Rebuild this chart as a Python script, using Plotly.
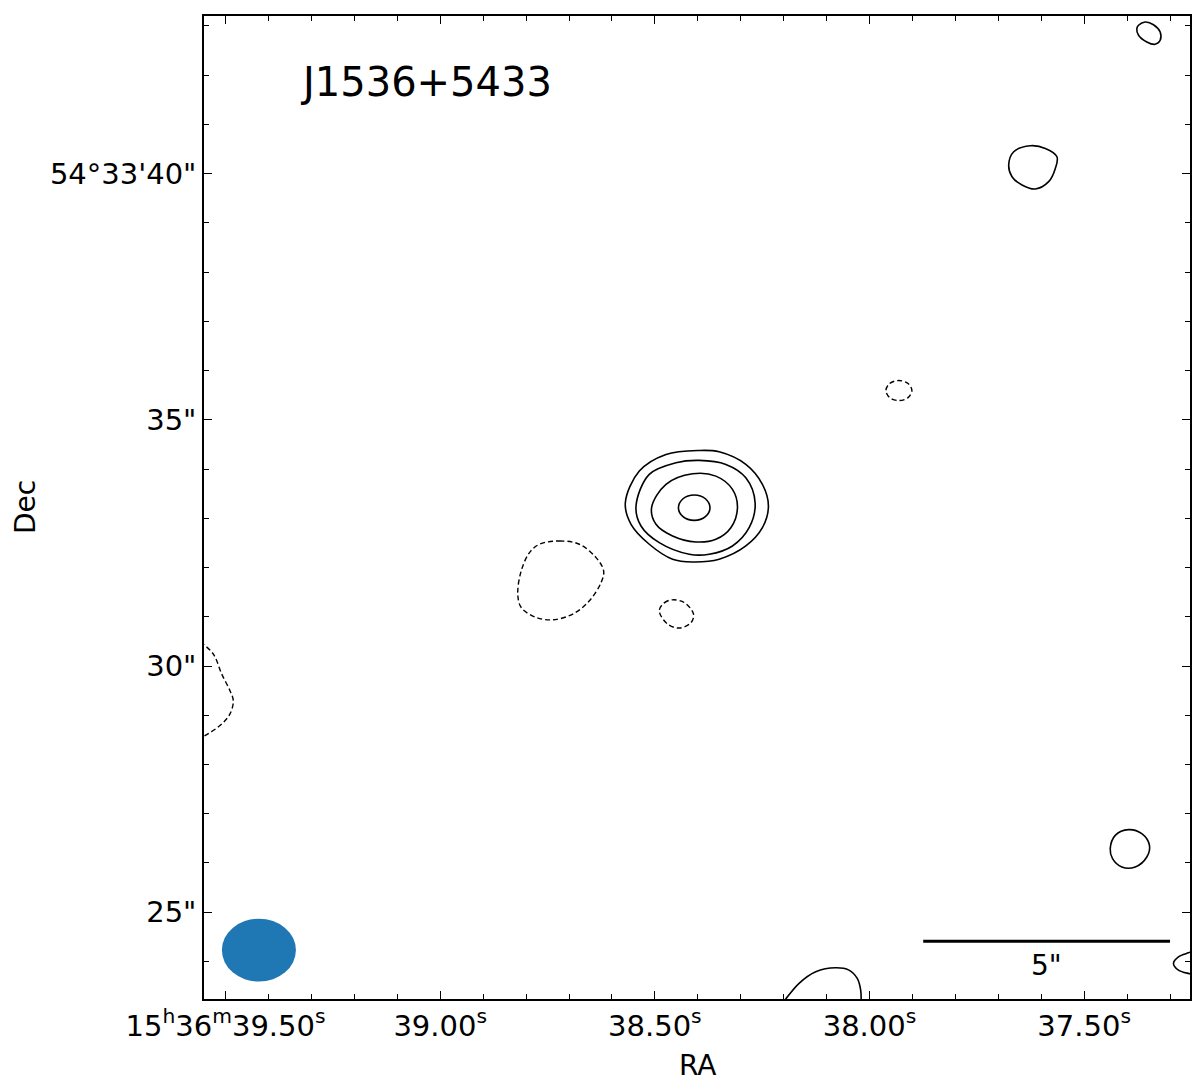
import plotly.graph_objects as go

# ---------------- data (RA in seconds of 15h36m, Dec in arcsec of +54d33') ----------------
source_name = "J1536+5433"

# positive contours (solid)
c1_ra = [38.5688, 38.5555, 38.5130, 38.4588, 38.4123, 38.3502, 38.2881, 38.2495, 38.2355, 38.2495, 38.2881, 38.3502, 38.3967, 38.4741, 38.5362]
c1_dec = [33.316, 32.878, 32.473, 32.169, 32.114, 32.169, 32.438, 32.809, 33.249, 33.689, 34.095, 34.350, 34.378, 34.297, 33.959]

c2_ra = [38.5439, 38.5323, 38.4897, 38.4199, 38.3734, 38.3193, 38.2804, 38.2665, 38.2881, 38.3346, 38.3967, 38.4509, 38.5130]
c2_dec = [33.249, 32.844, 32.505, 32.270, 32.270, 32.438, 32.809, 33.316, 33.823, 34.095, 34.176, 34.127, 33.892]

c3_ra = [38.5076, 38.4974, 38.4588, 38.4044, 38.3579, 38.3230, 38.3076, 38.3193, 38.3579, 38.4123, 38.4741]
c3_dec = [33.215, 32.878, 32.641, 32.520, 32.574, 32.809, 33.215, 33.588, 33.857, 33.904, 33.689]

c4_ra = [38.4451, 38.4344, 38.4083, 38.3823, 38.3716, 38.3823, 38.4083, 38.4344]
c4_dec = [33.215, 33.397, 33.472, 33.397, 33.215, 33.032, 32.957, 33.032]

p_ne_ra = [37.6758, 37.6641, 37.6253, 37.5904, 37.5634, 37.5672, 37.5827, 37.6137, 37.6448, 37.6681]
p_ne_dec = [40.176, 40.446, 40.567, 40.513, 40.345, 40.107, 39.838, 39.690, 39.771, 39.939]

p_se_ra = [37.4393, 37.4276, 37.3967, 37.3658, 37.3479, 37.3541, 37.3811, 37.4123, 37.4339]
p_se_dec = [26.290, 26.560, 26.676, 26.594, 26.357, 26.120, 25.917, 25.917, 26.088]

p_corner_ra = [37.3734, 37.3579, 37.3386, 37.3230, 37.3230, 37.3346, 37.3541, 37.3734, 37.3774]
p_corner_dec = [43.014, 43.081, 43.026, 42.878, 42.710, 42.629, 42.676, 42.812, 42.945]

p_bottom_ra = [38.2060, 38.1951, 38.1641, 38.1253, 38.0788, 38.0479, 38.0286, 38.0206, 38.0199]
p_bottom_dec = [23.114, 23.236, 23.554, 23.789, 23.870, 23.823, 23.655, 23.418, 23.114]

p_edge_ra = [37.2455, 37.2572, 37.2804, 37.2920, 37.2804, 37.2572, 37.2455]
p_edge_dec = [24.208, 24.174, 24.093, 23.959, 23.823, 23.756, 23.742]

# negative contours (dashed)
n_blob_ra = [38.7688, 38.7223, 38.6758, 38.6369, 38.6193, 38.6253, 38.6525, 38.6913, 38.7379, 38.7765, 38.8113, 38.8193, 38.8113, 38.7920]
n_blob_dec = [32.473, 32.540, 32.473, 32.201, 31.932, 31.695, 31.324, 31.054, 30.939, 30.985, 31.188, 31.460, 31.932, 32.303]

n_small_ra = [38.4897, 38.4781, 38.4588, 38.4316, 38.4099, 38.4160, 38.4432, 38.4704]
n_small_dec = [31.121, 31.283, 31.344, 31.290, 31.054, 30.878, 30.771, 30.852]

n_ne_ra = [37.9618, 37.9530, 37.9316, 37.9102, 37.9013, 37.9102, 37.9316, 37.9530]
n_ne_dec = [35.595, 35.739, 35.798, 35.739, 35.595, 35.451, 35.392, 35.451]

n_edge_ra = [39.5595, 39.5286, 39.5090, 39.4897, 39.4820, 39.4897, 39.5130, 39.5595]
n_edge_dec = [30.493, 30.244, 29.838, 29.499, 29.297, 29.027, 28.790, 28.527]

# beam (centre RA s, Dec arcsec; full axes in arcsec)
beam_ra = 39.4223
beam_dec = 24.229
beam_major_arcsec = 1.50
beam_minor_arcsec = 1.277

# scale bar
scalebar_arcsec = 5.0
scalebar_end_ra = 37.300
scalebar_dec = 24.411
scalebar_label = '5"'

# axes
ra_range = [39.5502, 37.2535]
dec_range = [23.236, 43.203]
x_tick_vals = [39.5, 39.0, 38.5, 38.0, 37.5]
x_tick_text = ["15<sup>h</sup>36<sup>m</sup>39.50<sup>s</sup>", "39.00<sup>s</sup>", "38.50<sup>s</sup>",
               "38.00<sup>s</sup>", "37.50<sup>s</sup>"]
y_tick_vals = [25, 30, 35, 40]
y_tick_text = ['25"', '30"', '35"', "54°33'40\""]
x_label = "RA"
y_label = "Dec"

# ---------------- figure ----------------
ARCSEC_PER_S = 15 * 0.57976  # 15 * cos(dec)
FONT = "DejaVu Sans"

fig = go.Figure()


def closed(a):
    return list(a) + [a[0]]


solid_closed = [(c1_ra, c1_dec), (c2_ra, c2_dec), (c3_ra, c3_dec), (c4_ra, c4_dec),
                (p_ne_ra, p_ne_dec), (p_se_ra, p_se_dec), (p_corner_ra, p_corner_dec)]
solid_open = [(p_bottom_ra, p_bottom_dec), (p_edge_ra, p_edge_dec)]
dashed_closed = [(n_blob_ra, n_blob_dec), (n_small_ra, n_small_dec), (n_ne_ra, n_ne_dec)]
dashed_open = [(n_edge_ra, n_edge_dec)]

for ra, dec in solid_closed:
    fig.add_trace(go.Scatter(x=closed(ra), y=closed(dec), mode="lines",
                             line=dict(color="black", width=1.6, shape="spline", smoothing=1.0),
                             hoverinfo="skip", showlegend=False))
for ra, dec in solid_open:
    fig.add_trace(go.Scatter(x=ra, y=dec, mode="lines",
                             line=dict(color="black", width=1.6, shape="spline", smoothing=1.0),
                             hoverinfo="skip", showlegend=False))
for ra, dec in dashed_closed:
    fig.add_trace(go.Scatter(x=closed(ra), y=closed(dec), mode="lines",
                             line=dict(color="black", width=1.4, shape="spline", smoothing=1.0, dash="5px,3px"),
                             hoverinfo="skip", showlegend=False))
for ra, dec in dashed_open:
    fig.add_trace(go.Scatter(x=ra, y=dec, mode="lines",
                             line=dict(color="black", width=1.4, shape="spline", smoothing=1.0, dash="5px,3px"),
                             hoverinfo="skip", showlegend=False))

# beam ellipse
half_w_s = beam_major_arcsec / 2 / ARCSEC_PER_S
half_h = beam_minor_arcsec / 2
fig.add_shape(type="circle", xref="x", yref="y",
              x0=beam_ra - half_w_s, x1=beam_ra + half_w_s,
              y0=beam_dec - half_h, y1=beam_dec + half_h,
              fillcolor="#1f77b4", line=dict(width=0), layer="above")

# scale bar
sb_start = scalebar_end_ra + scalebar_arcsec / ARCSEC_PER_S
fig.add_shape(type="line", xref="x", yref="y", x0=sb_start, x1=scalebar_end_ra,
              y0=scalebar_dec, y1=scalebar_dec, line=dict(color="black", width=3))
fig.add_annotation(x=(sb_start + scalebar_end_ra) / 2, y=scalebar_dec - 0.5, text=scalebar_label,
                   showarrow=False, xanchor="center", yanchor="middle",
                   font=dict(family=FONT, size=28, color="black"))

# source name
fig.add_annotation(x=39.332, y=41.865, text=source_name, showarrow=False,
                   xanchor="left", yanchor="middle",
                   font=dict(family=FONT, size=40, color="black"))

# axis labels
fig.add_annotation(xref="paper", yref="paper", x=0.5, y=-0.068, text=x_label, showarrow=False,
                   xanchor="center", yanchor="middle", font=dict(family=FONT, size=28, color="black"))
fig.add_annotation(xref="paper", yref="paper", x=-0.181, y=0.5, text=y_label, showarrow=False,
                   textangle=-90, xanchor="center", yanchor="middle",
                   font=dict(family=FONT, size=28, color="black"))

axis_common = dict(showgrid=False, zeroline=False, showline=True, linecolor="black", linewidth=1.5,
                   mirror="allticks", ticks="inside", ticklen=8, tickwidth=1.3, tickcolor="black",
                   tickfont=dict(family=FONT, size=29, color="black"))

fig.update_xaxes(range=ra_range, tickmode="array", tickvals=x_tick_vals, ticktext=x_tick_text,
                 minor=dict(ticks="inside", tickmode="linear", tick0=37.5, dtick=0.1, ticklen=5,
                            tickwidth=1.2, tickcolor="black"),
                 **axis_common)
fig.update_yaxes(range=dec_range, tickmode="array", tickvals=y_tick_vals, ticktext=y_tick_text,
                 minor=dict(ticks="inside", tickmode="linear", tick0=25, dtick=1, ticklen=5,
                            tickwidth=1.2, tickcolor="black"),
                 **axis_common)

# page body adds an 8px margin: size and place the figure so the plot lands where the reference has it
fig.update_layout(width=1192, height=1073, margin=dict(l=196, r=10, t=6, b=82),
                  plot_bgcolor="white", paper_bgcolor="white",
                  font=dict(family=FONT, color="black"))

fig.write_html("out.html")
